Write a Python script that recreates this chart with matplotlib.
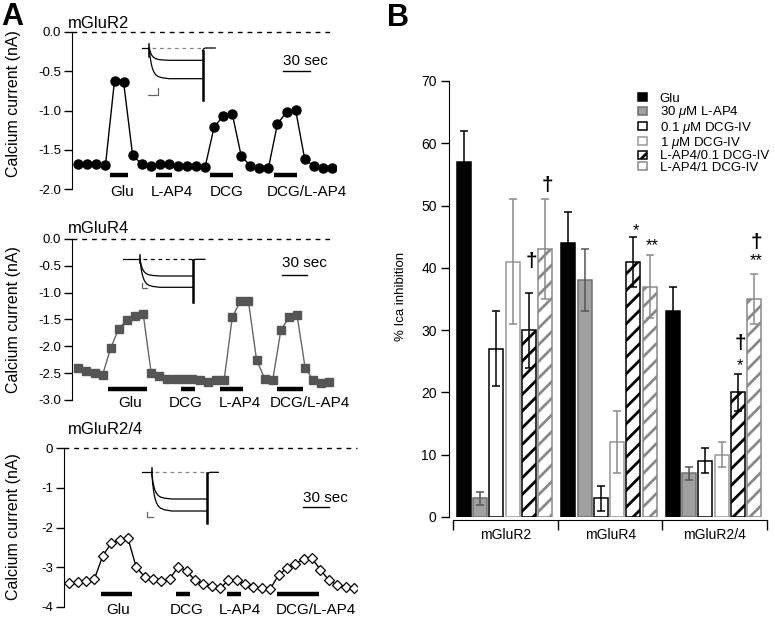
import matplotlib
matplotlib.use('Agg')
import matplotlib.pyplot as plt
from matplotlib.patches import Patch

plt.rcParams['font.family'] = ['Liberation Sans', 'DejaVu Sans']
plt.rcParams['axes.unicode_minus'] = False
plt.rcParams['mathtext.fontset'] = 'custom'
plt.rcParams['mathtext.rm'] = 'Liberation Sans'
plt.rcParams['mathtext.it'] = 'Liberation Sans:italic'
plt.rcParams['hatch.linewidth'] = 2.0

W, H = 775, 618

# ---------------- Panel A : time courses (one sample every 10 s) ----------------
r2_current = [-1.68, -1.68, -1.68, -1.69, -0.62, -0.64, -1.57, -1.68, -1.71, -1.68,
              -1.68, -1.71, -1.71, -1.71, -1.72, -1.21, -1.07, -1.04, -1.58, -1.70,
              -1.73, -1.73, -1.17, -1.02, -0.99, -1.61, -1.71, -1.73, -1.73]
r2_drugs = ['Glu', 'L-AP4', 'DCG', 'DCG/L-AP4']
r2_on = [3.5, 8.6, 14.5, 21.6]
r2_off = [5.45, 10.3, 17.1, 24.2]
r2_label_x = [4.8, 10.35, 16.4, 25.2]

r4_current = [-2.41, -2.46, -2.50, -2.53, -2.03, -1.67, -1.51, -1.44, -1.39, -2.50,
              -2.56, -2.60, -2.61, -2.61, -2.60, -2.63, -2.66, -2.63, -2.63, -1.46,
              -1.16, -1.16, -2.25, -2.60, -2.63, -1.70, -1.46, -1.42, -2.40, -2.63,
              -2.68, -2.66]
r4_drugs = ['Glu', 'DCG', 'L-AP4', 'DCG/L-AP4']
r4_on = [3.7, 12.7, 17.5, 24.5]
r4_off = [8.45, 14.4, 20.3, 27.7]
r4_label_x = [6.4, 13.2, 19.9, 28.6]

r24_current = [-3.41, -3.37, -3.34, -3.30, -2.71, -2.40, -2.32, -2.27, -3.01, -3.24,
               -3.30, -3.34, -3.30, -2.99, -3.09, -3.33, -3.43, -3.47, -3.54, -3.33,
               -3.33, -3.43, -3.49, -3.54, -3.55, -3.20, -3.03, -2.91, -2.80, -2.78,
               -3.07, -3.33, -3.45, -3.49, -3.54]
r24_drugs = ['Glu', 'DCG', 'L-AP4', 'DCG/L-AP4']
r24_on = [3.8, 12.7, 18.8, 24.8]
r24_off = [7.45, 14.4, 20.5, 29.8]
r24_label_x = [5.8, 14.0, 20.4, 29.4]

# inset current traces (pixels relative to baseline start)
decay_dx = [0, 1, 2, 3, 4.5, 6.5, 9, 13, 20]
decay_frac = [0, 0.3, 0.5, 0.64, 0.77, 0.87, 0.93, 0.97, 1.0]

# ---------------- Panel B : % Ica inhibition ----------------
groups = ['mGluR2', 'mGluR4', 'mGluR2/4']
treatments = ['Glu', r'30 $\mu$M L-AP4', r'0.1 $\mu$M DCG-IV', r'1 $\mu$M DCG-IV',
              'L-AP4/0.1 DCG-IV', 'L-AP4/1 DCG-IV']
glu_mean = [57, 44, 33]
glu_err = [5, 5, 4]
lap4_mean = [3, 38, 7]
lap4_err = [1, 5, 1]
dcg01_mean = [27, 3, 9]
dcg01_err = [6, 2, 2]
dcg1_mean = [41, 12, 10]
dcg1_err = [10, 5, 2]
mix01_mean = [30, 41, 20]
mix01_err = [6, 4, 3]
mix1_mean = [43, 37, 35]
mix1_err = [8, 5, 4]

ann_group = [0, 0, 1, 1, 2, 2, 2, 2]
ann_bar = [4, 5, 4, 5, 4, 4, 5, 5]
ann_text = ['†', '†', '*', '**', '*', '†', '**', '†']
ann_y = [41, 53.3, 46.0, 43.6, 24.3, 27.9, 41.2, 44]

fig = plt.figure(figsize=(W / 100, H / 100), dpi=100)


def px_rect(x0, y_top, w, h):
    return [x0 / W, 1 - (y_top + h) / H, w / W, h / H]


def time_course(rect, values, style, ylim, yticks, ticklabels, dash_end,
                drugs, on, off, label_x, bar_y, label_y, scale_x, scale_y, text_y):
    ax = fig.add_axes(rect)
    x = list(range(len(values)))
    ax.plot(x, values, **style)
    ax.set_ylim(*ylim)
    ax.set_xlim(rect_xlim[len(values)])
    ax.axhline(0, xmax=dash_end, color='black', lw=1, ls=(0, (3.5, 3.5)), clip_on=False)
    ax.hlines([bar_y] * len(drugs), on, off, color='black', lw=3.2)
    for name, lx in zip(drugs, label_x):
        ax.text(lx, label_y, name, ha='center', va='baseline', fontsize=11, clip_on=False)
    ax.plot([scale_x, scale_x + 3], [scale_y, scale_y], color='black', lw=1)
    ax.text(scale_x, text_y, '30 sec', ha='left', va='baseline', fontsize=11)
    for s in ['top', 'right', 'bottom']:
        ax.spines[s].set_visible(False)
    ax.set_xticks([])
    ax.set_yticks(yticks)
    ax.set_yticklabels(ticklabels)
    ax.tick_params(axis='y', length=6, width=1, pad=2, labelsize=9.5)
    ax.patch.set_alpha(0)
    return ax


def inset(x0, y0, on, off, end, levels, spike, tail, dash_color, sx, sy):
    ax = fig.add_axes(px_rect(x0, y0 - 8, 90, 63))
    ax.set_xlim(0, 90)
    ax.set_ylim(-55, 8)
    ax.axis('off')
    ax.plot([0, on], [0, 0], color='black', lw=0.9)
    ax.plot([on, on], spike, color='black', lw=1.1)
    for lev in levels:
        tx = [on + d for d in decay_dx] + [off]
        ty = [lev * f for f in decay_frac] + [lev]
        ax.plot(tx, ty, color='black', lw=0.9)
    ax.plot([on + 3, off], [0, 0], color=dash_color, lw=0.9, ls=(0, (3, 3)))
    ax.plot([off, off], tail, color='black', lw=1.8)
    ax.plot([off, off + 0.8, off + 2.5, end], [tail[0], -1, 0, 0], color='black', lw=0.9)
    ax.plot(sx, sy, color='#666666', lw=0.9)


rect_xlim = {29: (-0.70, 28.5), 32: (-0.78, 31.5), 35: (-0.6, 34.4)}

time_course(px_rect(72, 31.7, 264.3, 157.6), r2_current,
            dict(color='black', lw=1, marker='o', ms=6.5, mfc='black', mec='black'),
            (-2.0, 0.0), [0, -0.5, -1.0, -1.5, -2.0], ['0.0', '-0.5', '-1.0', '-1.5', '-2.0'],
            0.976, r2_drugs, r2_on, r2_off, r2_label_x, -1.82, -2.09, 22.6, -0.495, -0.423)
inset(141.7, 48, 7.5, 61, 73.5, [-12.3, -30.7], [4, -9.3], [-2.7, -51.7], '#888888',
      [6.6, 16, 16], [-47.3, -47.3, -40])

time_course(px_rect(72, 239, 261.5, 161), r4_current,
            dict(color='#666666', lw=1, marker='s', ms=5.8, mfc='#555555', mec='#555555'),
            (-3.0, 0.0), [0, -0.5, -1.0, -1.5, -2.0, -2.5, -3.0],
            ['0.0', '-0.5', '-1.0', '-1.5', '-2.0', '-2.5', '-3.0'],
            0.987, r4_drugs, r4_on, r4_off, r4_label_x, -2.80, -3.13, 25.2, -0.666, -0.516)
inset(123.3, 259.3, 16.7, 69.4, 81.7, [-16.7, -28], [4.3, -4], [-0.7, -42.3], 'black',
      [18.3, 18.3, 23.3], [-24, -29, -29])

time_course(px_rect(64.3, 448.3, 293, 158.4), r24_current,
            dict(color='black', lw=1, marker='D', ms=5.2, mfc='white', mec='black', mew=0.9),
            (-4.0, 0.0), [0, -1, -2, -3, -4], ['0', '-1', '-2', '-3', '-4'],
            1.0, r24_drugs, r24_on, r24_off, r24_label_x, -3.68, -4.19, 27.97, -1.49, -1.35)
inset(141.7, 472.3, 10, 65.6, 76.7, [-26.7, -38.7], [4.7, -1], [-1, -51], '#888888',
      [5, 5, 11.7], [-39.3, -45, -45])

for ytxt, name in [(28.3, 'mGluR2'), (233.3, 'mGluR4'), (434.3, 'mGluR2/4')]:
    fig.text(68 / W, 1 - ytxt / H, name, fontsize=12, va='baseline')
for yc in [104, 320, 527]:
    fig.text(14 / W, 1 - yc / H, 'Calcium current (nA)', rotation=90,
             ha='center', va='center', fontsize=11.5)

fig.text(1 / W, 1 - 25 / H, 'A', fontsize=22, weight='bold', va='baseline')
fig.text(387 / W, 1 - 26 / H, 'B', fontsize=22, weight='bold', va='baseline')

# ---------------- Panel B ----------------
axb = fig.add_axes(px_rect(453.3, 81, 313.7, 436))
means = [glu_mean, lap4_mean, dcg01_mean, dcg1_mean, mix01_mean, mix1_mean]
errs = [glu_err, lap4_err, dcg01_err, dcg1_err, mix01_err, mix1_err]
faces = ['black', '#a0a0a0', 'white', 'white', 'white', 'white']
edges = ['black', '#707070', 'black', '#999999', 'black', '#8a8a8a']
ecols = ['black', '#555555', 'black', '#8a8a8a', 'black', '#8a8a8a']
hatches = [None, None, None, None, '//', '//']
first, pitch, width = 0.099, 0.156, 0.134

handles = []
for i in range(len(treatments)):
    xs = [g + first + i * pitch for g in range(len(groups))]
    axb.bar(xs, means[i], width=width, color=faces[i], edgecolor=edges[i],
            hatch=hatches[i], lw=1.1, zorder=2)
    axb.errorbar(xs, means[i], yerr=errs[i], fmt='none', ecolor=ecols[i],
                 elinewidth=1.1, capsize=3, capthick=1.1, zorder=3)
    handles.append(Patch(facecolor=faces[i], edgecolor=edges[i], hatch=hatches[i],
                         lw=1.1, label=treatments[i]))

for g, b, t, y in zip(ann_group, ann_bar, ann_text, ann_y):
    if t == '†':
        axb.text(g + first + b * pitch + 0.02, y, t, ha='center', va='center',
                 fontsize=15, weight='bold')
    else:
        axb.text(g + first + b * pitch + 0.02, y, t, ha='center', va='center', fontsize=12)

axb.set_xlim(0, 3)
axb.set_ylim(0, 70)
axb.spines['top'].set_visible(False)
axb.spines['right'].set_visible(False)
axb.spines['bottom'].set_position(('outward', 2))
axb.spines['left'].set_position(('outward', 3))
axb.set_yticks(range(0, 71, 10))
axb.tick_params(axis='y', length=6, width=1, pad=3, labelsize=10)
axb.set_xticks([0, 1, 2, 3])
axb.set_xticklabels([])
axb.set_xticks([0.5, 1.5, 2.5], minor=True)
axb.set_xticklabels(groups, minor=True)
axb.tick_params(axis='x', which='major', length=7, width=1)
axb.tick_params(axis='x', which='minor', length=0, pad=6, labelsize=10)
axb.patch.set_alpha(0)

fig.text(401 / W, 1 - 296 / H, '% Ica inhibition', rotation=90, ha='center',
         va='center', fontsize=9.5)

axb.legend(handles=handles, loc='upper left', bbox_to_anchor=(638 / W, 1 - 93 / H),
           bbox_transform=fig.transFigure, frameon=False, fontsize=9.5,
           handlelength=0.65, handleheight=0.55, handletextpad=1.0,
           labelspacing=-0.05, borderpad=0, borderaxespad=0)

fig.savefig('out.png', dpi=100)
